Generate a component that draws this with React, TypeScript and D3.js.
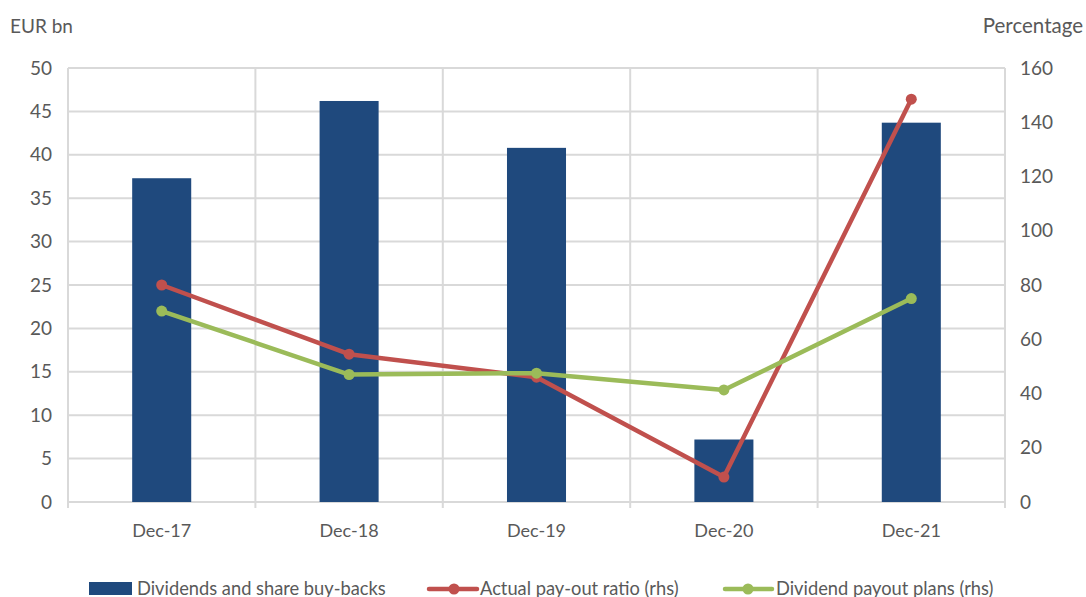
import React from "react";
import * as d3 from "d3";

const categories = ["Dec-17", "Dec-18", "Dec-19", "Dec-20", "Dec-21"];
const dividends = [37.3, 46.2, 40.8, 7.2, 43.7];
const actualPayout = [80, 54.5, 46, 9.2, 148.5];
const payoutPlans = [70.4, 47, 47.5, 41.3, 75];
const leftTicks = [0, 5, 10, 15, 20, 25, 30, 35, 40, 45, 50];
const rightTicks = [0, 20, 40, 60, 80, 100, 120, 140, 160];

const W = 1086, H = 597;
const left = 68, right = 1005, top = 68, bottom = 502;
const font = "Lato, 'Open Sans', sans-serif";
const fs = 19;
const txt = "#595959";
const grid = "#d9d9d9";
const blue = "#1f497d";
const red = "#c0504d";
const green = "#9bbb59";

export default function App() {
  const x = d3.scaleBand<string>().domain(categories).range([left, right]).paddingInner(0).paddingOuter(0);
  const yL = d3.scaleLinear().domain([0, 50]).range([bottom, top]);
  const yR = d3.scaleLinear().domain([0, 160]).range([bottom, top]);
  const bw = x.bandwidth() * 0.315;
  const cx = (c: string) => (x(c) as number) + x.bandwidth() / 2;
  const line = d3.line<[number, number]>().x(d => d[0]).y(d => d[1]);
  const redPts: [number, number][] = categories.map((c, i) => [cx(c), yR(actualPayout[i])]);
  const greenPts: [number, number][] = categories.map((c, i) => [cx(c), yR(payoutPlans[i])]);
  const boundaries = [...categories.map(c => x(c) as number), right];

  return (
    <svg width={W} height={H} style={{ position: "absolute", left: 0, top: 0, background: "#fff" }} fontFamily={font}>
      {leftTicks.map(t => (
        <line key={"g" + t} x1={left} x2={right} y1={yL(t)} y2={yL(t)} stroke={grid} strokeWidth={2} />
      ))}
      {boundaries.map((b, i) => (
        <line key={"v" + i} x1={b} x2={b} y1={top} y2={bottom + 6} stroke={grid} strokeWidth={2} />
      ))}
      {leftTicks.map(t => (
        <text key={"l" + t} x={52} y={yL(t)} dy="0.35em" textAnchor="end" fontSize={fs} fill={txt}>{t}</text>
      ))}
      {rightTicks.map(t => (
        <text key={"r" + t} x={1020} y={yR(t)} dy="0.35em" textAnchor="start" fontSize={fs} fill={txt}>{t}</text>
      ))}
      <text x={10} y={33} fontSize={fs} fill={txt}>EUR bn</text>
      <text x={1083} y={33} fontSize={20.5} fill={txt} textAnchor="end">Percentage</text>
      {categories.map((c, i) => (
        <rect key={"b" + c} x={cx(c) - bw / 2} y={yL(dividends[i])} width={bw} height={bottom - yL(dividends[i])} fill={blue} />
      ))}
      {categories.map(c => (
        <text key={"c" + c} x={cx(c)} y={537} textAnchor="middle" fontSize={18} fill={txt}>{c}</text>
      ))}
      <path d={line(redPts) || ""} fill="none" stroke={red} strokeWidth={4.5} strokeLinejoin="round" />
      {redPts.map((p, i) => <circle key={"rp" + i} cx={p[0]} cy={p[1]} r={5.5} fill={red} />)}
      <path d={line(greenPts) || ""} fill="none" stroke={green} strokeWidth={4.5} strokeLinejoin="round" />
      {greenPts.map((p, i) => <circle key={"gp" + i} cx={p[0]} cy={p[1]} r={5.5} fill={green} />)}
      <g fontSize={18.3} fill={txt}>
        <rect x={89} y={582} width={43} height={13} fill={blue} />
        <text x={137} y={595}>Dividends and share buy-backs</text>
        <line x1={429} x2={477} y1={589} y2={589} stroke={red} strokeWidth={4.5} strokeLinecap="round" />
        <circle cx={454} cy={589} r={5.5} fill={red} />
        <text x={480} y={595}>Actual pay-out ratio (rhs)</text>
        <line x1={725} x2={772} y1={589} y2={589} stroke={green} strokeWidth={4.5} strokeLinecap="round" />
        <circle cx={748} cy={589} r={5.5} fill={green} />
        <text x={776} y={595}>Dividend payout plans (rhs)</text>
      </g>
    </svg>
  );
}
